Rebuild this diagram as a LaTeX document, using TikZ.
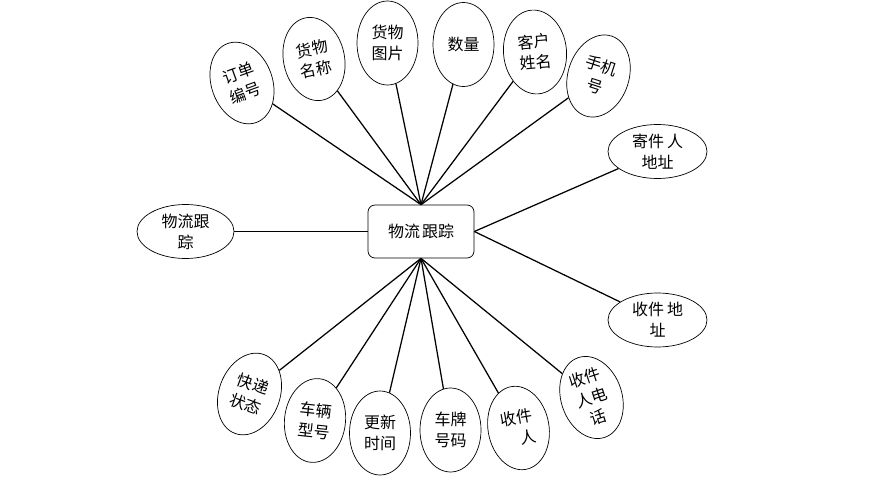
\documentclass[tikz,border=0pt]{standalone}
\usepackage{fontspec}
\setmainfont{Noto Sans CJK SC}
\usetikzlibrary{shapes.geometric}
\tikzset{
  ent/.style={draw, line width=0.7pt, rounded corners=7pt, fill=white,
    minimum width=106pt, minimum height=53pt, inner sep=0pt},
  attr/.style={draw, ellipse, line width=0.7pt, fill=white, align=center,
    inner sep=0pt, minimum width=61pt, minimum height=84pt},
  wattr/.style={attr, minimum width=99pt, minimum height=54pt},
  link/.style={line width=1.25pt},
}

\begin{document}
\begin{tikzpicture}[x=1pt, y=-1pt, font=\fontsize{16}{21}\selectfont]
\useasboundingbox (0,0) rectangle (875,484);

% ── 实体 ────────────────────────────────────────────────
\node[ent] (track) at (421, 231.5) {物流\hspace{2pt}跟踪};

% ── 上方属性 ────────────────────────────────────────────
\node[attr, rotate=20] (order) at (242, 83) {订单\\编号};
\node[attr, rotate=12] (gname) at (314, 59) {货物\\名称};
\node[attr] (gpic) at (387.5, 43) {货物\\图片};
\node[attr] (qty) at (463.5, 44.5) {数量};
\node[attr, rotate=5, minimum width=63pt] (cname) at (535, 52) {客户\\姓名};
\node[attr, rotate=-18] (phone) at (598.5, 76) {手机\\号};

% ── 左右属性 ────────────────────────────────────────────
\node[wattr] (saddr) at (657.5, 151.5) {寄件\hspace{3pt}人\\地址};
\node[wattr, minimum width=97pt] (ltrack) at (185.5, 231.5) {物流跟\\踪};
\node[wattr] (raddr) at (657.5, 320) {收件\hspace{3pt}地\\址};

% ── 下方属性 ────────────────────────────────────────────
\node[attr, rotate=18] (rtel) at (591.5, 397.5) {收件\\人电\\话};
\node[attr, rotate=10] (rname) at (518.5, 428) {收件\\\hspace*{1em}人};
\node[attr] (plate) at (450.5, 430) {车牌\\号码};
\node[attr] (utime) at (380, 433) {更新\\时间};
\node[attr, rotate=-6] (vtype) at (315, 420.5) {车辆\\型号};
\node[attr, rotate=-20] (state) at (249.5, 394) {快递\\状态};

% ── 连线 ────────────────────────────────────────────────
\foreach \n in {order, gname, gpic, qty, cname, phone}
  \draw[link] (track.north) -- (\n);
\foreach \n in {state, vtype, utime, plate, rname, rtel}
  \draw[link] (track.south) -- (\n);
\draw[link] (track.east) -- (saddr);
\draw[link] (track.east) -- (raddr);
\draw[link] (ltrack) -- (track.west);

\end{tikzpicture}
\end{document}
